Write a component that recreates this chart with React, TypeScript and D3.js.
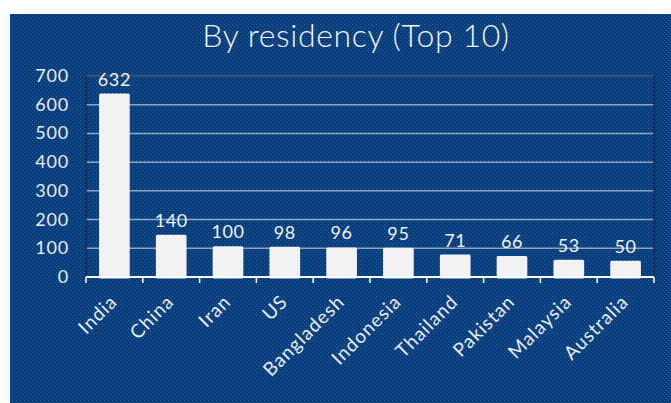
import { useEffect, useRef } from 'react'
import * as d3 from 'd3'

const COUNTRIES = ['India', 'China', 'Iran', 'US', 'Bangladesh', 'Indonesia', 'Thailand', 'Pakistan', 'Malaysia', 'Australia']
const STUDENTS = [632, 140, 100, 98, 96, 95, 71, 66, 53, 50]
const Y_TICKS = [0, 100, 200, 300, 400, 500, 600, 700]
const TITLE = 'By residency (Top 10)'

const FONT = 'Lato, "Open Sans", sans-serif'

export default function App() {
  const svgRef = useRef<SVGSVGElement>(null)

  useEffect(() => {
    if (!svgRef.current) return
    const W = 671
    const H = 403
    const margin = { top: 76, right: 17, bottom: 126, left: 86 }
    const iW = W - margin.left - margin.right
    const iH = H - margin.top - margin.bottom

    const svg = d3.select(svgRef.current).attr('viewBox', `0 0 ${W} ${H}`)
    svg.selectAll('*').remove()
    const defs = svg.append('defs')

    // dotted navy fill of the panel
    const pat = defs.append('pattern').attr('id', 'navy-dots')
      .attr('width', 4).attr('height', 4).attr('patternUnits', 'userSpaceOnUse')
    pat.append('rect').attr('width', 4).attr('height', 4).attr('fill', '#063e7d')
    pat.append('rect').attr('x', 0).attr('y', 0).attr('width', 1).attr('height', 1).attr('fill', '#2e609b')
    pat.append('rect').attr('x', 2).attr('y', 2).attr('width', 1).attr('height', 1).attr('fill', '#2e609b')

    svg.append('rect').attr('width', W).attr('height', H).attr('fill', '#ffffff')
    svg.append('rect').attr('x', 10).attr('y', 14).attr('width', W - 10).attr('height', H - 14)
      .attr('fill', 'url(#navy-dots)')

    // title
    svg.append('text').attr('x', 356).attr('y', 47)
      .attr('text-anchor', 'middle').attr('fill', '#f2f2f2')
      .attr('font-family', FONT).attr('font-weight', 300).attr('font-size', 32)
      .attr('letter-spacing', 0.6)
      .text(TITLE)

    const g = svg.append('g').attr('transform', `translate(${margin.left},${margin.top})`)

    const x = d3.scaleBand().domain(COUNTRIES).range([0, iW]).paddingInner(0.46).paddingOuter(0.23)
    const y = d3.scaleLinear().domain([0, 700]).range([iH, 0])

    // gridlines
    Y_TICKS.filter((t) => t > 0 && t < 700).forEach((t) => {
      g.append('line').attr('x1', 0).attr('x2', iW).attr('y1', y(t)).attr('y2', y(t))
        .attr('stroke', '#8ea6c6').attr('stroke-width', 1.5)
    })

    // plot frame: top and right dark
    g.append('line').attr('x1', 0).attr('x2', iW).attr('y1', y(700)).attr('y2', y(700))
      .attr('stroke', '#46576b').attr('stroke-width', 1.5)
    g.append('line').attr('x1', iW).attr('x2', iW).attr('y1', 0).attr('y2', iH)
      .attr('stroke', '#1b2c44').attr('stroke-width', 1.5)
    g.append('line').attr('x1', 0).attr('x2', 0).attr('y1', 0).attr('y2', iH)
      .attr('stroke', '#1b2c44').attr('stroke-width', 1.5)

    // y labels
    Y_TICKS.forEach((t) => {
      g.append('text').attr('x', -17).attr('y', y(t) + 6)
        .attr('text-anchor', 'end').attr('fill', '#e6ecf3')
        .attr('font-family', FONT).attr('font-size', 18).attr('letter-spacing', 0.8)
        .text(t)
    })

    // bars
    COUNTRIES.forEach((c, i) => {
      const v = STUDENTS[i]
      g.append('rect')
        .attr('x', x(c)! + 1.5).attr('y', y(v) - 0.5)
        .attr('width', x.bandwidth() - 3).attr('height', iH - y(v) + 0.5)
        .attr('fill', '#f2f2f2').attr('stroke', '#f2f2f2').attr('stroke-width', 3)
        .attr('stroke-linejoin', 'round')
      g.append('text').attr('x', x(c)! + x.bandwidth() / 2).attr('y', y(v) - 10)
        .attr('text-anchor', 'middle').attr('fill', '#f2f2f2')
        .attr('font-family', FONT).attr('font-size', 18).attr('letter-spacing', 0.6)
        .text(v)
    })

    // x axis line and ticks
    g.append('line').attr('x1', 0).attr('x2', iW).attr('y1', iH).attr('y2', iH)
      .attr('stroke', '#ffffff').attr('stroke-width', 2)
    d3.range(COUNTRIES.length + 1).forEach((i) => {
      const tx = (iW / COUNTRIES.length) * i
      g.append('line').attr('x1', tx).attr('x2', tx).attr('y1', iH).attr('y2', iH + 6)
        .attr('stroke', '#ffffff').attr('stroke-width', 1.5)
    })

    // x labels rotated
    COUNTRIES.forEach((c) => {
      const cx = x(c)! + x.bandwidth() / 2 + 4
      const cy = iH + 26
      g.append('text').attr('transform', `translate(${cx},${cy}) rotate(-45)`)
        .attr('text-anchor', 'end').attr('fill', '#e6ecf3')
        .attr('font-family', FONT).attr('font-size', 19).attr('letter-spacing', 1)
        .text(c)
    })

    return () => { svg.selectAll('*').remove() }
  }, [])

  return (
    <svg ref={svgRef} width={671} height={403}
      style={{ position: 'absolute', left: 0, top: 0, display: 'block' }} />
  )
}
